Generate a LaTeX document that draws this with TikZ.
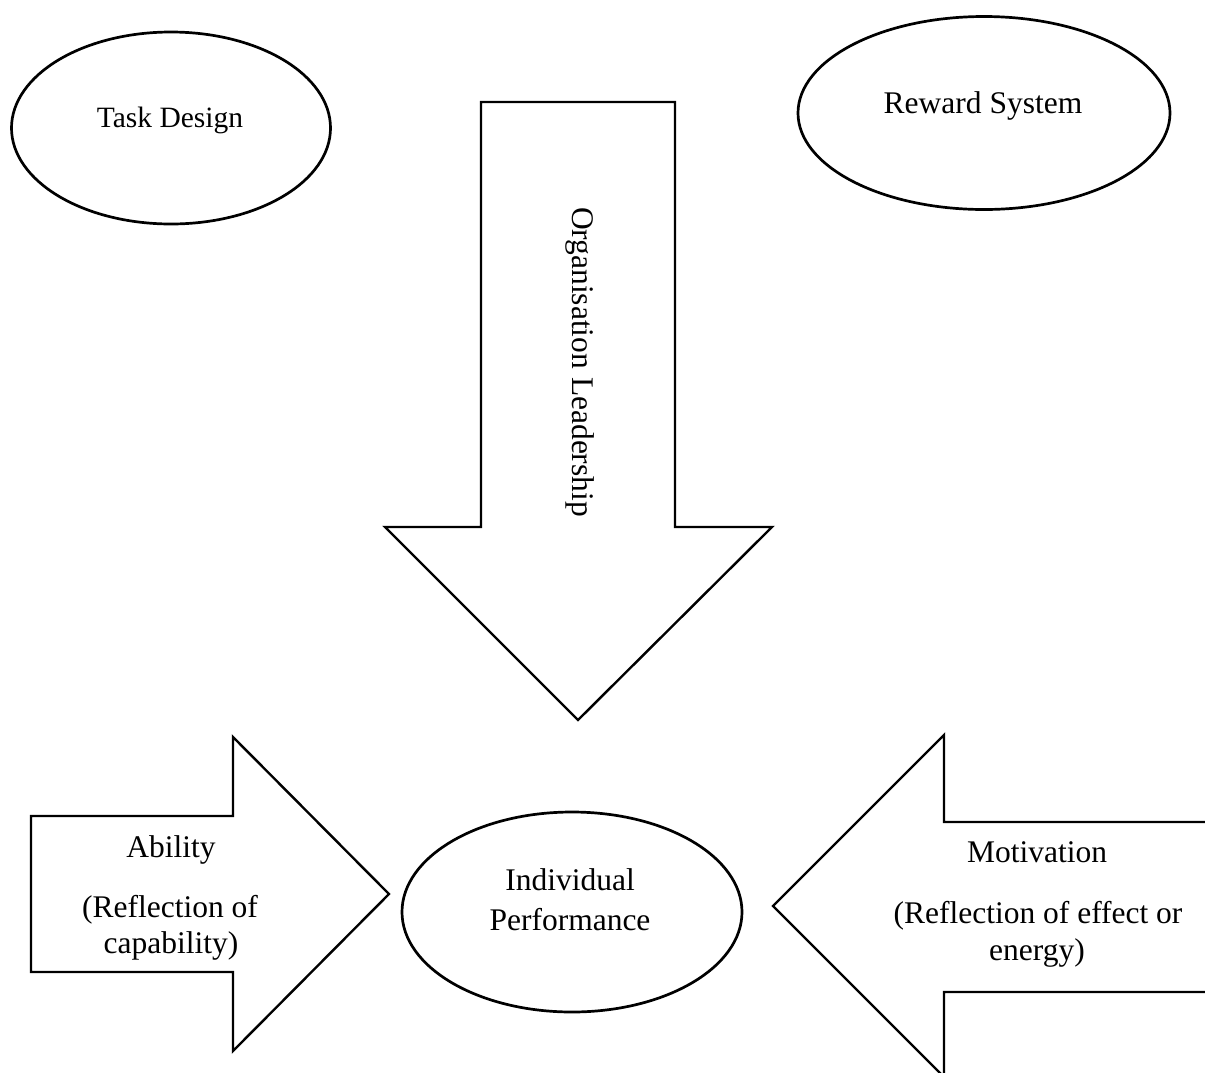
\documentclass[tikz,border=0pt]{standalone}
\usepackage{fontspec}
\setmainfont{Liberation Serif}
\usetikzlibrary{shapes.geometric}
\begin{document}
\begin{tikzpicture}[x=1pt,y=-1pt,
  ell/.style={draw=black, line width=2.7pt, ellipse, inner sep=0pt},
  bigarrow/.style={draw=black, line width=2.4pt, fill=white, line join=miter},
  txt/.style={anchor=base, inner sep=0pt, font=\fontsize{31.5}{36}\selectfont},
  smalltxt/.style={anchor=base, inner sep=0pt, font=\fontsize{29.5}{33}\selectfont}]
\useasboundingbox (0,0) rectangle (1205,1072);
\clip (0,0) rectangle (1205,1072);
\fill[white] (0,0) rectangle (1205,1072);

% ellipses
\node[ell, minimum width=319pt, minimum height=192pt] (task) at (171,128) {};
\node[smalltxt] (tasktxt) at (170,127) {Task Design};
\node[ell, minimum width=372pt, minimum height=193pt] (reward) at (984,113) {};
\node[txt] (rewardtxt) at (983,113) {Reward System};
\node[ell, minimum width=340pt, minimum height=200pt] (perf) at (572,912) {};
\node[txt] (perftxt1) at (570,890) {Individual};
\node[txt] (perftxt2) at (570,930) {Performance};

% down arrow
\coordinate (d1) at (481,102);
\coordinate (d2) at (675,102);
\coordinate (d3) at (675,527);
\coordinate (d4) at (772,527);
\coordinate (d5) at (578,720);
\coordinate (d6) at (385,527);
\coordinate (d7) at (481,527);
\draw[bigarrow] (d1) -- (d2) -- (d3) -- (d4) -- (d5) -- (d6) -- (d7) -- cycle;
\node[rotate=-90, inner sep=0pt, font=\fontsize{31.5}{36}\selectfont] (lead) at (580,362) {Organisation Leadership};

% left arrow (pointing right)
\coordinate (l1) at (31,816);
\coordinate (l2) at (233,816);
\coordinate (l3) at (233,737);
\coordinate (l4) at (389,894);
\coordinate (l5) at (233,1051);
\coordinate (l6) at (233,972);
\coordinate (l7) at (31,972);
\draw[bigarrow] (l1) -- (l2) -- (l3) -- (l4) -- (l5) -- (l6) -- (l7) -- cycle;
\node[txt] (abil1) at (171,857) {Ability};
\node[txt] (abil2) at (170,917) {(Reflection of};
\node[txt] (abil3) at (171,953) {capability)};

% right arrow (pointing left), cut by the page edge
\coordinate (r1) at (1215,822);
\coordinate (r2) at (944,822);
\coordinate (r3) at (944,735);
\coordinate (r4) at (773,906);
\coordinate (r5) at (944,1077);
\coordinate (r6) at (944,992);
\coordinate (r7) at (1215,992);
\draw[bigarrow] (r1) -- (r2) -- (r3) -- (r4) -- (r5) -- (r6) -- (r7);
\node[txt] (mot1) at (1037,862) {Motivation};
\node[txt] (mot2) at (1038,923) {(Reflection of effect or};
\node[txt] (mot3) at (1037,960) {energy)};
\end{tikzpicture}
\end{document}
